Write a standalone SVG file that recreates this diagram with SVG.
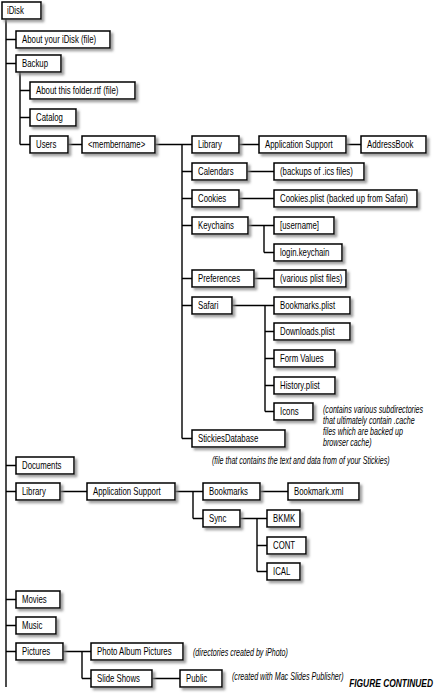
<svg xmlns="http://www.w3.org/2000/svg" width="434" height="696" viewBox="0 0 434 696">
<defs>
<filter id="sh" x="-10%" y="-20%" width="130%" height="160%">
<feDropShadow dx="2.5" dy="2.5" stdDeviation="1.2" flood-color="#808080" flood-opacity="0.75"/>
</filter>
</defs>
<style>
rect{fill:#fff;stroke:#000;stroke-width:1.5;filter:url(#sh)}
text{font-family:"Liberation Sans",Arial,sans-serif;font-size:10.2px;fill:#000}
.n{font-style:italic;font-size:10px}
.fc{font-style:italic;font-weight:bold;font-size:10px;text-anchor:end}
#connectors path{fill:none;stroke:#000;stroke-width:1.4}
</style>
<rect x="0" y="0" width="434" height="696" style="fill:#fff;stroke:none;filter:none"/>
<g id="connectors">
<path d="M6 19V687M6 39.5H16M6 63.5H16M6 465.5H16M6 491.5H16M6 599.5H16M6 625.5H16M6 651.5H16"/>
<path d="M20 72V144.5M20 90.5H30M20 117.5H30M20 144.5H30"/>
<path d="M68 144.5H82M155 144.5H182M182 144.5V438.5M182 144.5H192M182 171.5H192M182 198.5H192M182 225.5H192M182 278.5H192M182 305.5H192M182 438.5H192"/>
<path d="M239 144.5H259M346 144.5H361M247 171.5H274M239 198.5H274"/>
<path d="M248 225.5H264M264 225.5V252.5M264 225.5H274M264 252.5H274M254 278.5H274"/>
<path d="M232 305.5H265M265 305.5V411.5M265 331.5H274M265 358.5H274M265 385.5H274M265 411.5H274M265 305.5H274"/>
<path d="M60 491.5H87M175 491.5H193M193 491.5V518.5M193 491.5H203M193 518.5H203M260 491.5H288"/>
<path d="M240 518.5H257M257 518.5V571.5M257 518.5H267M257 545.5H267M257 571.5H267"/>
<path d="M63 651.5H82M82 651.5V678.5M82 651.5H91M82 678.5H91M152 678.5H180"/>
</g>
<g id="idisk"><rect x="2" y="2" width="39" height="17"/><text transform="translate(7 14.2) scale(.765 1)">iDisk</text></g>
<g id="about-idisk"><rect x="16" y="31" width="94" height="17"/><text transform="translate(22 43.2) scale(.765 1)">About your iDisk (file)</text></g>
<g id="backup"><rect x="16" y="55" width="45" height="17"/><text transform="translate(22 67.2) scale(.765 1)">Backup</text></g>
<g id="about-folder"><rect x="30" y="82" width="105" height="17"/><text transform="translate(36 94.2) scale(.765 1)">About this folder.rtf (file)</text></g>
<g id="catalog"><rect x="30" y="109" width="46" height="17"/><text transform="translate(36 121.2) scale(.765 1)">Catalog</text></g>
<g id="users"><rect x="30" y="136" width="38" height="17"/><text transform="translate(36 148.2) scale(.765 1)">Users</text></g>
<g id="membername"><rect x="82" y="136" width="73" height="17"/><text transform="translate(88 148.2) scale(.765 1)">&lt;membername&gt;</text></g>
<g id="library1"><rect x="192" y="136" width="47" height="17"/><text transform="translate(198 148.2) scale(.765 1)">Library</text></g>
<g id="appsupport1"><rect x="259" y="136" width="87" height="17"/><text transform="translate(265 148.2) scale(.765 1)">Application Support</text></g>
<g id="addressbook"><rect x="361" y="136" width="65" height="17"/><text transform="translate(367 148.2) scale(.765 1)">AddressBook</text></g>
<g id="calendars"><rect x="192" y="163" width="55" height="17"/><text transform="translate(198 175.2) scale(.765 1)">Calendars</text></g>
<g id="backups-ics"><rect x="274" y="163" width="90" height="17"/><text transform="translate(280 175.2) scale(.765 1)">(backups of .ics files)</text></g>
<g id="cookies"><rect x="192" y="190" width="47" height="17"/><text transform="translate(198 202.2) scale(.765 1)">Cookies</text></g>
<g id="cookies-plist"><rect x="274" y="190" width="143" height="17"/><text transform="translate(280 202.2) scale(.765 1)">Cookies.plist (backed up from Safari)</text></g>
<g id="keychains"><rect x="192" y="217" width="56" height="17"/><text transform="translate(198 229.2) scale(.765 1)">Keychains</text></g>
<g id="username"><rect x="274" y="217" width="60" height="17"/><text transform="translate(280 229.2) scale(.765 1)">[username]</text></g>
<g id="login-keychain"><rect x="274" y="244" width="68" height="17"/><text transform="translate(280 256.2) scale(.765 1)">login.keychain</text></g>
<g id="preferences"><rect x="192" y="270" width="62" height="17"/><text transform="translate(198 282.2) scale(.765 1)">Preferences</text></g>
<g id="plist-files"><rect x="274" y="270" width="72" height="17"/><text transform="translate(280 282.2) scale(.765 1)">(various plist files)</text></g>
<g id="safari"><rect x="192" y="297" width="40" height="17"/><text transform="translate(198 309.2) scale(.765 1)">Safari</text></g>
<g id="bookmarks-plist"><rect x="274" y="297" width="76" height="17"/><text transform="translate(280 309.2) scale(.765 1)">Bookmarks.plist</text></g>
<g id="downloads-plist"><rect x="274" y="323" width="76" height="17"/><text transform="translate(280 335.2) scale(.765 1)">Downloads.plist</text></g>
<g id="form-values"><rect x="274" y="350" width="61" height="17"/><text transform="translate(280 362.2) scale(.765 1)">Form Values</text></g>
<g id="history-plist"><rect x="274" y="377" width="61" height="17"/><text transform="translate(280 389.2) scale(.765 1)">History.plist</text></g>
<g id="icons"><rect x="274" y="403" width="39" height="17"/><text transform="translate(280 415.2) scale(.765 1)">Icons</text></g>
<g id="icons-note">
<text class="n" transform="translate(323 412.5) scale(.7125 1)">(contains various subdirectories</text>
<text class="n" transform="translate(323 423.5) scale(.7125 1)">that ultimately contain .cache</text>
<text class="n" transform="translate(323 434.5) scale(.7125 1)">files which are backed up</text>
<text class="n" transform="translate(323 445.5) scale(.7125 1)">browser cache)</text>
</g>
<g id="stickies"><rect x="192" y="430" width="93" height="17"/><text transform="translate(198 442.2) scale(.765 1)">StickiesDatabase</text></g>
<g id="stickies-note"><text class="n" transform="translate(212 463.5) scale(.7125 1)">(file that contains the text and data from of your Stickies)</text></g>
<g id="documents"><rect x="16" y="457" width="58" height="17"/><text transform="translate(22 469.2) scale(.765 1)">Documents</text></g>
<g id="library2"><rect x="16" y="483" width="44" height="17"/><text transform="translate(22 495.2) scale(.765 1)">Library</text></g>
<g id="appsupport2"><rect x="87" y="483" width="88" height="17"/><text transform="translate(93 495.2) scale(.765 1)">Application Support</text></g>
<g id="bookmarks"><rect x="203" y="483" width="57" height="17"/><text transform="translate(209 495.2) scale(.765 1)">Bookmarks</text></g>
<g id="bookmark-xml"><rect x="288" y="483" width="71" height="17"/><text transform="translate(294 495.2) scale(.765 1)">Bookmark.xml</text></g>
<g id="sync"><rect x="203" y="510" width="37" height="17"/><text transform="translate(209 522.2) scale(.765 1)">Sync</text></g>
<g id="bkmk"><rect x="267" y="510" width="33" height="17"/><text transform="translate(273 522.2) scale(.765 1)">BKMK</text></g>
<g id="cont"><rect x="267" y="537" width="39" height="17"/><text transform="translate(273 549.2) scale(.765 1)">CONT</text></g>
<g id="ical"><rect x="267" y="563" width="33" height="17"/><text transform="translate(273 575.2) scale(.765 1)">ICAL</text></g>
<g id="movies"><rect x="16" y="591" width="44" height="17"/><text transform="translate(22 603.2) scale(.765 1)">Movies</text></g>
<g id="music"><rect x="16" y="617" width="40" height="17"/><text transform="translate(22 629.2) scale(.765 1)">Music</text></g>
<g id="pictures"><rect x="16" y="643" width="47" height="17"/><text transform="translate(22 655.2) scale(.765 1)">Pictures</text></g>
<g id="photo-album"><rect x="91" y="643" width="92" height="17"/><text transform="translate(97 655.2) scale(.765 1)">Photo Album Pictures</text></g>
<g id="photo-note"><text class="n" transform="translate(193 655.5) scale(.7125 1)">(directories created by iPhoto)</text></g>
<g id="slide-shows"><rect x="91" y="670" width="61" height="17"/><text transform="translate(97 682.2) scale(.765 1)">Slide Shows</text></g>
<g id="public"><rect x="180" y="670" width="42" height="17"/><text transform="translate(186 682.2) scale(.765 1)">Public</text></g>
<g id="public-note"><text class="n" transform="translate(232 680) scale(.7125 1)">(created with Mac Slides Publisher)</text></g>
<g id="figure-continued"><text class="fc" transform="translate(433 687) scale(.84 1)">FIGURE CONTINUED</text></g>
</svg>
